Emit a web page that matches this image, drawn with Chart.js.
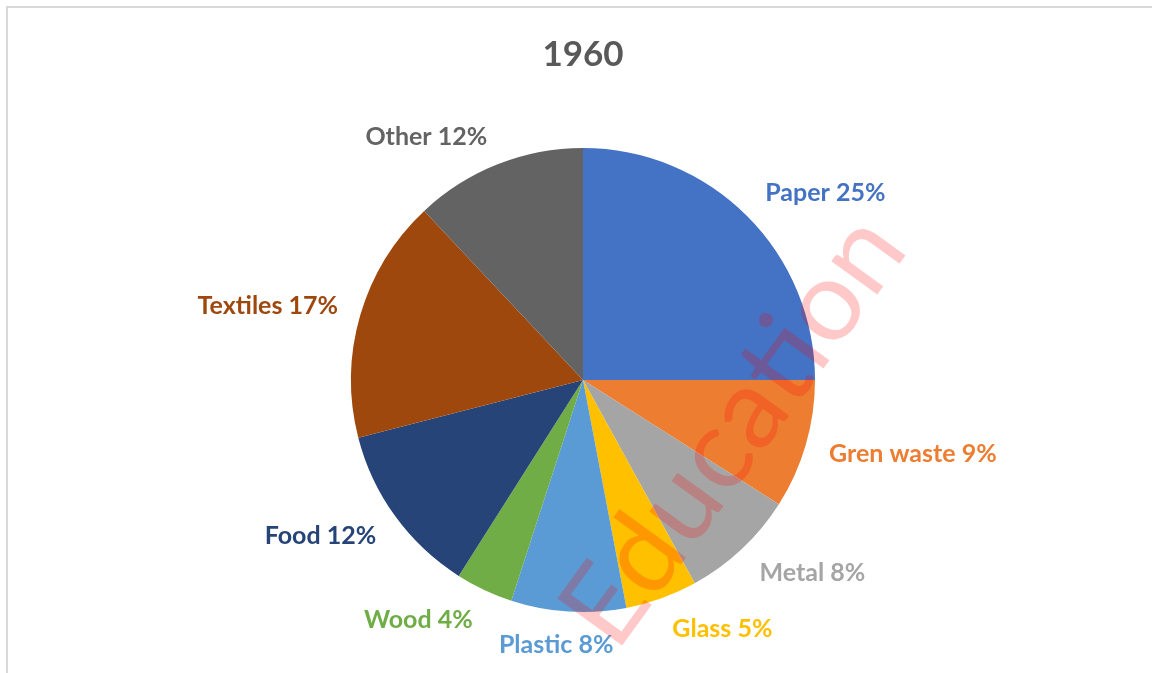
<!DOCTYPE html>
<html>
<head>
<meta charset="utf-8">
<title>1960</title>
<script src="https://cdn.jsdelivr.net/npm/chart.js@4.4.1/dist/chart.umd.min.js"></script>
<style>
  html, body { margin: 0; padding: 0; background: #fff; }
  #wrap { position: relative; width: 1152px; height: 673px; overflow: hidden; }
  #frame { position: absolute; left: 6px; top: 6px; width: 1160px; height: 700px;
           border: 2px solid #d9d9d9; box-sizing: border-box; pointer-events: none; }
</style>
</head>
<body>
<div id="wrap">
  <canvas id="pieChart" width="1152" height="673"></canvas>
  <div id="frame"></div>
</div>
<script>
// datos
var categorias = ['Paper', 'Gren waste', 'Metal', 'Glass', 'Plastic', 'Wood', 'Food', 'Textiles', 'Other'];
var porcentajes = [25, 9, 8, 5, 8, 4, 12, 17, 12];
var colores = ['#4472C4', '#ED7D31', '#A5A5A5', '#FFC000', '#5B9BD5', '#70AD47', '#264478', '#9E480E', '#636363'];

// etiquetas fuera del pastel, estilo Excel
var etiquetasPlugin = {
    id: 'etiquetas',
    afterDatasetsDraw: function(chart, args, opts) {
        var ctx = chart.ctx;
        var meta = chart.getDatasetMeta(0);
        ctx.save();
        ctx.font = opts.font;
        ctx.textBaseline = 'middle';
        meta.data.forEach(function(arc, i) {
            var mid = (arc.startAngle + arc.endAngle) / 2;
            var r = arc.outerRadius + 20;
            var cos = Math.cos(mid), sin = Math.sin(mid);
            var x = arc.x + cos * r;
            var y = arc.y + sin * r + sin * 13;
            var align = 'center';
            if (cos > 0.15) { align = 'left'; x += 4; }
            else if (cos < -0.15) { align = 'right'; x -= 3; }
            else { x -= 11; }
            if (sin < -0.9) y += 3;
            ctx.textAlign = align;
            ctx.fillStyle = colores[i];
            ctx.fillText(categorias[i] + ' ' + porcentajes[i] + '%', x, y);
        });
        ctx.restore();
    },
    afterDraw: function(chart, args, opts) {
        // marca de agua
        var ctx = chart.ctx;
        ctx.save();
        ctx.font = '112px Lato';
        var w = ctx.measureText(opts.marca).width;
        ctx.translate(616, 654);
        ctx.rotate(-54 * Math.PI / 180);
        ctx.scale(500 / w, 1);
        ctx.textAlign = 'left';
        ctx.textBaseline = 'alphabetic';
        ctx.fillStyle = 'rgba(255, 0, 0, 0.21)';
        ctx.fillText(opts.marca, 0, 0);
        ctx.restore();
    }
};

var ctx = document.getElementById('pieChart').getContext('2d');
var grafico = new Chart(ctx, {
    type: 'pie',
    data: {
        labels: categorias,
        datasets: [{
            data: porcentajes,
            backgroundColor: colores,
            borderWidth: 0
        }]
    },
    options: {
        responsive: false,
        animation: false,
        layout: { padding: { left: 100, right: 86, top: 0, bottom: 61 } },
        plugins: {
            legend: { display: false },
            tooltip: { enabled: false },
            title: {
                display: true,
                text: '1960',
                color: '#595959',
                font: { family: 'Lato', size: 35, weight: 'bold', lineHeight: 1.2 },
                padding: { top: 34, bottom: 72 }
            },
            etiquetas: {
                font: 'bold 25px Lato',
                marca: 'Education'
            }
        }
    },
    plugins: [etiquetasPlugin]
});
</script>
</body>
</html>
